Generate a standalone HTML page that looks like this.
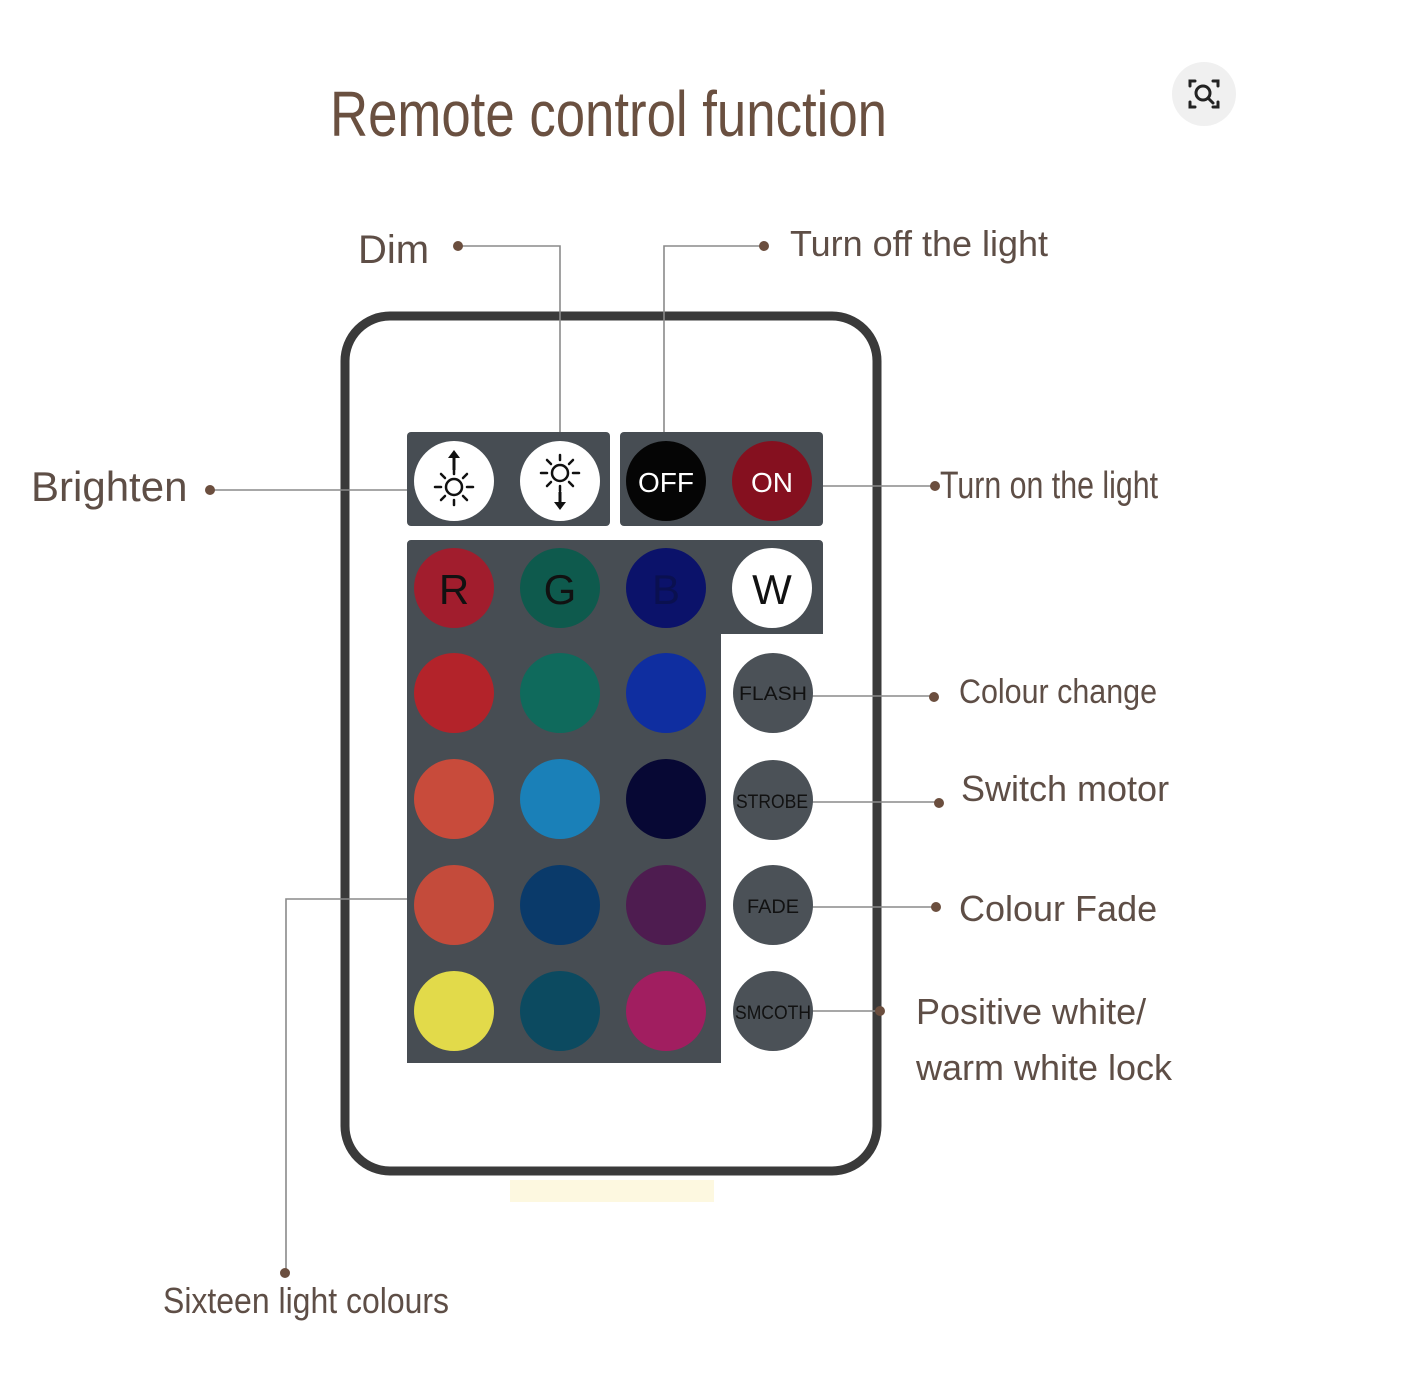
<!DOCTYPE html>
<html><head><meta charset="utf-8"><style>
html,body{margin:0;padding:0;background:#fff;}
svg{display:block;}
text{font-family:"Liberation Sans",sans-serif;}
</style></head><body>
<svg width="1404" height="1392" viewBox="0 0 1404 1392" xmlns="http://www.w3.org/2000/svg">
<defs>
<g id="sun">
<circle cx="0" cy="0" r="8" fill="none" stroke="#111" stroke-width="2.5"/>
<g stroke="#111" stroke-width="2.5" stroke-linecap="round">
<line x1="13" y1="0" x2="19" y2="0"/><line x1="-13" y1="0" x2="-19" y2="0"/>
<line x1="0" y1="13" x2="0" y2="18"/><line x1="0" y1="-13" x2="0" y2="-18"/>
<line x1="9" y1="9" x2="13" y2="13"/><line x1="-9" y1="9" x2="-13" y2="13"/>
<line x1="9" y1="-9" x2="13" y2="-13"/><line x1="-9" y1="-9" x2="-13" y2="-13"/>
</g></g>
</defs>
<rect width="1404" height="1392" fill="#fff"/>
<rect x="510" y="1180" width="204" height="22" fill="#fdf8e0"/>
<!-- title -->
<text x="330" y="136" font-size="64" fill="#6a5040" textLength="557" lengthAdjust="spacingAndGlyphs">Remote control function</text>
<!-- search icon -->
<circle cx="1204" cy="94" r="32" fill="#f0f0f0"/>
<g fill="none" stroke="#222" stroke-width="3" stroke-linecap="round">
<path d="M1190 86 v-5 h5 M1213 81 h5 v5 M1218 102 v5 h-5 M1195 107 h-5 v-5"/>
<circle cx="1203" cy="93" r="7"/><line x1="1208" y1="98" x2="1213" y2="103"/>
</g>
<!-- remote -->
<rect x="345" y="316" width="532" height="855" rx="45" fill="#fff" stroke="#3a3a3a" stroke-width="9"/>
<!-- connectors -->
<g stroke="#8a8a8a" stroke-width="1.6" fill="none">
<path d="M458 246 H560 V440"/>
<path d="M664 440 V246 H764"/>
<path d="M210 490 H410"/>
<path d="M815 486 H935"/>
<path d="M812 696 H934"/>
<path d="M812 802 H938"/>
<path d="M812 907 H935"/>
<path d="M812 1011 H880"/>
<path d="M410 899 H286 V1272"/>
</g>
<g fill="#6b4e3e">
<circle cx="458" cy="246" r="5"/><circle cx="764" cy="246" r="5"/>
<circle cx="210" cy="490" r="5"/><circle cx="935" cy="486" r="5"/>
<circle cx="934" cy="697" r="5"/><circle cx="939" cy="803" r="5"/>
<circle cx="936" cy="907" r="5"/><circle cx="880" cy="1011" r="5"/>
<circle cx="285" cy="1273" r="5"/>
</g>
<!-- panels -->
<g fill="#474d53">
<rect x="407" y="432" width="203" height="94" rx="4"/>
<rect x="620" y="432" width="203" height="94" rx="4"/>
<path d="M411 540 H819 a4 4 0 0 1 4 4 V634 H721 V1063 H407 V544 a4 4 0 0 1 4 -4 Z"/>
</g>
<!-- top buttons -->
<circle cx="454" cy="481" r="40" fill="#fff"/>
<circle cx="560" cy="481" r="40" fill="#fff"/>
<use href="#sun" x="454" y="487"/>
<path d="M454 470 V456" stroke="#111" stroke-width="3"/><path d="M448 458 L454 450 L460 458 Z" fill="#111"/>
<use href="#sun" x="560" y="473"/>
<path d="M560 492 V504" stroke="#111" stroke-width="3"/><path d="M554 502 L560 510 L566 502 Z" fill="#111"/>
<circle cx="666" cy="481" r="40" fill="#050505"/>
<circle cx="772" cy="481" r="40" fill="#85101f"/>
<text x="666" y="492" font-size="28" fill="#fff" text-anchor="middle">OFF</text>
<text x="772" y="492" font-size="28" fill="#fff" text-anchor="middle">ON</text>
<!-- color grid -->
<circle cx="454" cy="588" r="40" fill="#a11d2d"/><circle cx="560" cy="588" r="40" fill="#0e5a4d"/>
<circle cx="666" cy="588" r="40" fill="#0b126a"/><circle cx="772" cy="588" r="40" fill="#fff"/>
<text x="454" y="604" font-size="42" fill="#111" text-anchor="middle">R</text>
<text x="560" y="604" font-size="42" fill="#111" text-anchor="middle">G</text>
<text x="666" y="604" font-size="42" fill="#0a1050" text-anchor="middle">B</text>
<text x="772" y="604" font-size="42" fill="#111" text-anchor="middle">W</text>
<circle cx="454" cy="693" r="40" fill="#b3232a"/><circle cx="560" cy="693" r="40" fill="#0f6a5c"/><circle cx="666" cy="693" r="40" fill="#0f2ea0"/>
<circle cx="454" cy="799" r="40" fill="#c84b3b"/><circle cx="560" cy="799" r="40" fill="#1a80b8"/><circle cx="666" cy="799" r="40" fill="#070834"/>
<circle cx="454" cy="905" r="40" fill="#c44b3b"/><circle cx="560" cy="905" r="40" fill="#0a3a6a"/><circle cx="666" cy="905" r="40" fill="#4e1c50"/>
<circle cx="454" cy="1011" r="40" fill="#e2da4a"/><circle cx="560" cy="1011" r="40" fill="#0c4a60"/><circle cx="666" cy="1011" r="40" fill="#a11e60"/>
<!-- mode buttons -->
<g fill="#4b5157">
<circle cx="773" cy="693" r="40"/><circle cx="773" cy="800" r="40"/>
<circle cx="773" cy="905" r="40"/><circle cx="773" cy="1011" r="40"/>
</g>
<g fill="#111" text-anchor="middle" font-size="19">
<text x="773" y="700" textLength="68" lengthAdjust="spacingAndGlyphs">FLASH</text>
<text x="772" y="808" textLength="72" lengthAdjust="spacingAndGlyphs">STROBE</text>
<text x="773" y="913" textLength="52" lengthAdjust="spacingAndGlyphs">FADE</text>
<text x="773" y="1019" textLength="76" lengthAdjust="spacingAndGlyphs">SMCOTH</text>
</g>
<!-- labels -->
<g fill="#5e4e46">
<text x="358" y="263" font-size="40">Dim</text>
<text x="790" y="256" font-size="36" textLength="258" lengthAdjust="spacingAndGlyphs">Turn off the light</text>
<text x="31" y="501" font-size="42">Brighten</text>
<text x="940" y="498" font-size="38" textLength="218" lengthAdjust="spacingAndGlyphs">Turn on the light</text>
<text x="959" y="703" font-size="34" textLength="198" lengthAdjust="spacingAndGlyphs">Colour change</text>
<text x="961" y="801" font-size="36">Switch motor</text>
<text x="959" y="921" font-size="36">Colour Fade</text>
<text x="916" y="1024" font-size="36">Positive white/</text>
<text x="916" y="1080" font-size="36">warm white lock</text>
<text x="163" y="1313" font-size="36" textLength="286" lengthAdjust="spacingAndGlyphs">Sixteen light colours</text>
</g>
</svg>
</body></html>
